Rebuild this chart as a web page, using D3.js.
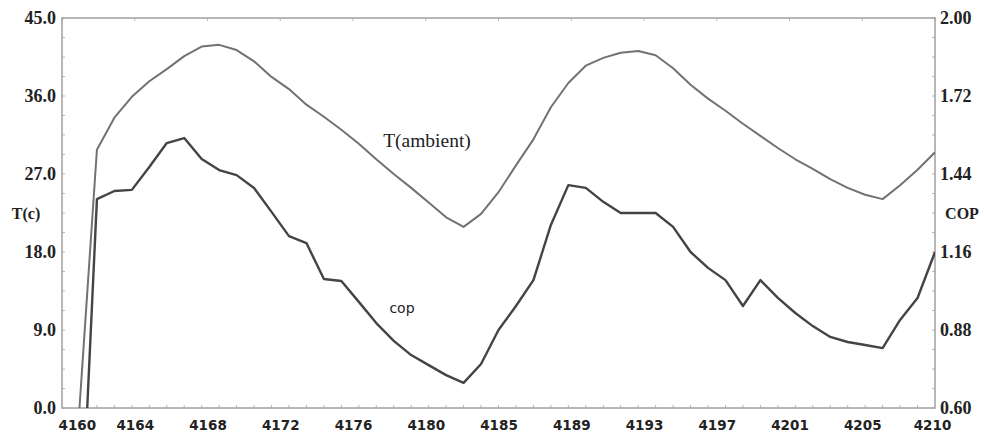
<!DOCTYPE html>
<html>
<head>
<meta charset="utf-8">
<script src="https://cdn.jsdelivr.net/npm/d3@7"></script>
<style>
  html, body { margin: 0; padding: 0; background: #fff; }
  #chart { width: 984px; height: 434px; }
</style>
</head>
<body>
<div id="chart"></div>
<script>
// hourly readings, 4161..4210
const hours = d3.range(4161, 4211);
const tAmbient = [0, 29.8, 33.5, 35.9, 37.7, 39.1, 40.6, 41.7, 41.9, 41.3, 40.0,
  38.2, 36.8, 35.0, 33.6, 32.1, 30.5, 28.7, 27.0, 25.4, 23.7,
  22.0, 20.9, 22.4, 24.9, 28.0, 31.0, 34.7, 37.5, 39.5, 40.4,
  41.0, 41.2, 40.7, 39.2, 37.3, 35.7, 34.3, 32.8, 31.4, 30.0,
  28.7, 27.6, 26.4, 25.4, 24.6, 24.1, 25.7, 27.5, 29.5];
const cop = [0, 1.350, 1.379, 1.383, 1.465, 1.551, 1.569, 1.494, 1.454, 1.436, 1.390,
  1.304, 1.217, 1.192, 1.063, 1.056, 0.981, 0.905, 0.841, 0.790, 0.754,
  0.718, 0.690, 0.758, 0.880, 0.966, 1.059, 1.257, 1.400, 1.390, 1.340,
  1.300, 1.300, 1.300, 1.250, 1.160, 1.103, 1.059, 0.966, 1.059, 0.995,
  0.941, 0.894, 0.855, 0.837, 0.826, 0.815, 0.916, 0.995, 1.160];
const xTicks = d3.range(13).map(i => 4160 + i * 50 / 12);
const leftTicks = [0, 9, 18, 27, 36, 45];
const rightTicks = [0.60, 0.88, 1.16, 1.44, 1.72, 2.00];

const W = 984, H = 434;
const M = {t: 18, r: 49, b: 26, l: 62};
const svg = d3.select('#chart').append('svg').attr('width', W).attr('height', H);

const x = d3.scaleLinear().domain([4160, 4210]).range([M.l, W - M.r]);
const yL = d3.scaleLinear().domain([0, 45]).range([H - M.b, M.t]);
const yR = d3.scaleLinear().domain([0.6, 2.0]).range([H - M.b, M.t]);

const frame = '#a0a0a0';
const serif = '"Liberation Serif", "Times New Roman", serif';
const sans = '"DejaVu Sans", Verdana, sans-serif';

// minor ticks (inward)
const minor = svg.append('g').attr('stroke', '#b8b8b8').attr('stroke-width', 1);
minor.selectAll('.mx').data(d3.range(4161, 4210)).enter().append('line')
  .attr('x1', d => x(d)).attr('x2', d => x(d))
  .attr('y1', H - M.b).attr('y2', H - M.b - 3);
minor.selectAll('.ml').data(d3.range(0, 45.01, 2.25)).enter().append('line')
  .attr('x1', M.l).attr('x2', M.l + 3)
  .attr('y1', d => yL(d)).attr('y2', d => yL(d));
minor.selectAll('.mr').data(d3.range(0.6, 2.001, 0.07)).enter().append('line')
  .attr('x1', W - M.r).attr('x2', W - M.r - 3)
  .attr('y1', d => yR(d)).attr('y2', d => yR(d));
minor.selectAll('.mt').data(xTicks).enter().append('line')
  .attr('x1', d => x(d)).attr('x2', d => x(d))
  .attr('y1', M.t).attr('y2', M.t + 3);

// frame
svg.append('rect')
  .attr('x', M.l).attr('y', M.t)
  .attr('width', W - M.l - M.r).attr('height', H - M.t - M.b)
  .attr('fill', 'none').attr('stroke', frame).attr('stroke-width', 1.5);

// axes
const xAxis = svg.append('g')
  .attr('transform', `translate(0,${H - M.b})`)
  .call(d3.axisBottom(x).tickValues(xTicks).tickSize(0).tickPadding(12)
    .tickFormat(d => Math.floor(d + 1e-6)));
xAxis.select('.domain').remove();
xAxis.selectAll('text')
  .attr('font-family', sans)
  .attr('font-weight', 'bold').attr('font-size', 13.5).attr('fill', '#222');
xAxis.selectAll('text').filter((d, i) => i === 0).attr('text-anchor', 'start').attr('dx', -4);
xAxis.selectAll('text').filter((d, i) => i === 12).attr('dx', -3);

const leftAxis = svg.append('g')
  .attr('transform', `translate(${M.l},0)`)
  .call(d3.axisLeft(yL).tickValues(leftTicks).tickSize(0).tickPadding(6)
    .tickFormat(d3.format('.1f')));
leftAxis.select('.domain').remove();
leftAxis.selectAll('text')
  .attr('font-family', serif)
  .attr('font-weight', 'bold').attr('font-size', 18).attr('fill', '#222');

const rightAxis = svg.append('g')
  .attr('transform', `translate(${W - M.r},0)`)
  .call(d3.axisRight(yR).tickValues(rightTicks).tickSize(0).tickPadding(5)
    .tickFormat(d3.format('.2f')));
rightAxis.select('.domain').remove();
rightAxis.selectAll('text')
  .attr('font-family', serif)
  .attr('font-weight', 'bold').attr('font-size', 18).attr('fill', '#222');

// axis titles
svg.append('text').attr('x', 26).attr('y', 219).attr('text-anchor', 'middle')
  .attr('font-family', serif).attr('font-weight', 'bold')
  .attr('font-size', 16).attr('fill', '#222').text('T(c)');
svg.append('text').attr('x', 962).attr('y', 219).attr('text-anchor', 'middle')
  .attr('font-family', serif).attr('font-weight', 'bold')
  .attr('font-size', 16).attr('fill', '#222').text('COP');

// lines, clipped to plot area
svg.append('clipPath').attr('id', 'plot')
  .append('rect').attr('x', M.l).attr('y', M.t)
  .attr('width', W - M.l - M.r).attr('height', H - M.t - M.b);
const plot = svg.append('g').attr('clip-path', 'url(#plot)');

const lineL = d3.line().x((d, i) => x(hours[i])).y(d => yL(d));
const lineR = d3.line().x((d, i) => x(hours[i])).y(d => yR(d));

plot.append('path').datum(tAmbient).attr('d', lineL)
  .attr('fill', 'none').attr('stroke', '#727272').attr('stroke-width', 2)
  .attr('stroke-linejoin', 'round');
plot.append('path').datum(cop).attr('d', lineR)
  .attr('fill', 'none').attr('stroke', '#444').attr('stroke-width', 2.4)
  .attr('stroke-linejoin', 'round');

// series labels
svg.append('text').attr('x', 427).attr('y', 147).attr('text-anchor', 'middle')
  .attr('font-family', serif)
  .attr('font-size', 19.5).attr('fill', '#222').text('T(ambient)');
svg.append('text').attr('x', 402).attr('y', 313).attr('text-anchor', 'middle')
  .attr('font-family', sans)
  .attr('font-size', 14).attr('fill', '#222').text('cop');
</script>
</body>
</html>
